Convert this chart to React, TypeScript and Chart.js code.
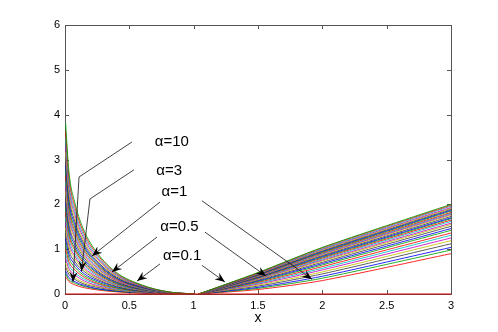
import React, { useEffect, useRef } from 'react';
import { Chart, registerables } from 'chart.js';

Chart.register(...registerables);

// sample positions along x (shared by every curve)
const xValues = [0.005, 0.03, 0.08, 0.15, 0.25, 0.4, 0.6, 0.8, 1.0, 1.04, 1.5, 2.0, 3.0];

// one row per curve (top of the family first)
const curveValues = [
  [3.80, 2.75, 2.00, 1.40, 0.92, 0.48, 0.20, 0.050, 0, 0, 0.48, 1.04, 2.00],
  [3.63, 2.63, 1.91, 1.34, 0.88, 0.46, 0.19, 0.048, 0, 0, 0.47, 1.03, 1.98],
  [3.47, 2.51, 1.82, 1.28, 0.84, 0.44, 0.18, 0.046, 0, 0, 0.465, 1.01, 1.96],
  [3.31, 2.40, 1.74, 1.22, 0.80, 0.42, 0.17, 0.044, 0, 0, 0.457, 0.996, 1.93],
  [3.16, 2.29, 1.66, 1.16, 0.77, 0.40, 0.17, 0.042, 0, 0, 0.45, 0.98, 1.91],
  [3.02, 2.19, 1.59, 1.11, 0.73, 0.38, 0.16, 0.040, 0, 0, 0.442, 0.966, 1.89],
  [2.88, 2.09, 1.52, 1.06, 0.70, 0.36, 0.15, 0.038, 0, 0, 0.434, 0.951, 1.87],
  [2.76, 1.99, 1.45, 1.02, 0.67, 0.35, 0.145, 0.036, 0, 0, 0.427, 0.936, 1.85],
  [2.63, 1.90, 1.38, 0.97, 0.64, 0.33, 0.14, 0.035, 0, 0, 0.419, 0.922, 1.82],
  [2.51, 1.82, 1.32, 0.93, 0.61, 0.32, 0.13, 0.033, 0, 0, 0.412, 0.907, 1.80],
  [2.40, 1.74, 1.26, 0.88, 0.58, 0.30, 0.126, 0.032, 0, 0, 0.404, 0.892, 1.78],
  [2.29, 1.66, 1.21, 0.84, 0.55, 0.29, 0.12, 0.030, 0, 0, 0.396, 0.877, 1.76],
  [2.16, 1.56, 1.14, 0.80, 0.52, 0.27, 0.114, 0.028, 0, 0, 0.387, 0.859, 1.73],
  [2.04, 1.48, 1.07, 0.75, 0.49, 0.26, 0.107, 0.027, 0, 0, 0.377, 0.84, 1.70],
  [1.93, 1.39, 1.01, 0.71, 0.47, 0.24, 0.10, 0.025, 0, 0, 0.368, 0.822, 1.68],
  [1.82, 1.32, 0.96, 0.67, 0.44, 0.23, 0.096, 0.024, 0, 0, 0.358, 0.803, 1.65],
  [1.70, 1.23, 0.89, 0.63, 0.41, 0.21, 0.089, 0.022, 0, 0, 0.347, 0.781, 1.62],
  [1.58, 1.15, 0.83, 0.58, 0.38, 0.20, 0.083, 0.021, 0, 0, 0.336, 0.759, 1.58],
  [1.48, 1.07, 0.78, 0.54, 0.36, 0.19, 0.078, 0.019, 0, 0, 0.324, 0.737, 1.55],
  [1.35, 0.98, 0.71, 0.50, 0.33, 0.17, 0.071, 0.018, 0, 0, 0.309, 0.707, 1.51],
  [1.23, 0.89, 0.65, 0.45, 0.30, 0.16, 0.065, 0.016, 0, 0, 0.294, 0.677, 1.46],
  [1.12, 0.81, 0.59, 0.41, 0.27, 0.14, 0.059, 0.015, 0, 0, 0.279, 0.648, 1.42],
  [1.00, 0.72, 0.53, 0.37, 0.24, 0.13, 0.053, 0.013, 0, 0, 0.26, 0.611, 1.36],
  [0.89, 0.65, 0.47, 0.33, 0.22, 0.11, 0.047, 0.012, 0, 0, 0.241, 0.574, 1.31],
  [0.79, 0.57, 0.42, 0.29, 0.19, 0.10, 0.042, 0.010, 0, 0, 0.222, 0.537, 1.25],
  [0.69, 0.50, 0.36, 0.25, 0.17, 0.087, 0.036, 0.009, 0, 0, 0.199, 0.492, 1.19],
  [0.60, 0.44, 0.32, 0.22, 0.15, 0.076, 0.032, 0.008, 0, 0, 0.176, 0.448, 1.12],
  [0.51, 0.37, 0.27, 0.19, 0.12, 0.065, 0.027, 0.007, 0, 0, 0.149, 0.396, 1.04],
  [0.45, 0.32, 0.24, 0.17, 0.11, 0.057, 0.024, 0.006, 0, 0, 0.127, 0.352, 0.98],
  [0.38, 0.28, 0.20, 0.14, 0.092, 0.048, 0.02, 0.005, 0, 0, 0.10, 0.30, 0.90],
];

// index in xValues where the rising (right-hand) branch begins
const rightBranchStart = 9;

// flat red curve lying on y = 0
const zeroLineX = [0, 3];
const zeroLineY = [0, 0];

const xTicks = [0, 0.5, 1, 1.5, 2, 2.5, 3];
const yTicks = [0, 1, 2, 3, 4, 5, 6];

const alphaLabels = ['α=10', 'α=3', 'α=1', 'α=0.5', 'α=0.1'];

// styling / annotation layout (data coordinates)
const palette = ['#0000ff', '#00a000', '#ff0000', '#00bfbf', '#bf00bf', '#bfbf00', '#404040'];
const labelPos = [
  [0.83, 3.39],
  [0.81, 2.74],
  [0.85, 2.27],
  [0.89, 1.49],
  [0.91, 0.85],
];
const arrowPaths: number[][][][] = [
  [[[0.52, 3.39], [0.109, 2.61], [0.062, 0.27]]],
  [[[0.536, 2.77], [0.194, 2.12], [0.128, 0.51]]],
  [[[0.738, 2.05], [0.21, 0.85]], [[1.064, 2.08], [1.919, 0.33]]],
  [[[0.715, 1.27], [0.365, 0.49]], [[1.088, 1.38], [1.562, 0.4]]],
  [[[0.738, 0.67], [0.56, 0.29]], [[1.064, 0.64], [1.243, 0.27]]],
];

const FONT = '"Liberation Sans", Arial, Helvetica, sans-serif';

const decorPlugin = {
  id: 'decor',
  beforeDatasetsDraw(chart: any) {
    const { ctx, chartArea: a, scales } = chart;
    const xs = scales.x;
    const ys = scales.y;
    ctx.save();
    ctx.strokeStyle = '#555';
    ctx.lineWidth = 1;
    ctx.strokeRect(a.left + 0.5, a.top + 0.5, a.right - a.left, a.bottom - a.top);
    const tl = 4;
    ctx.beginPath();
    xTicks.forEach((v) => {
      const px = Math.round(xs.getPixelForValue(v)) + 0.5;
      ctx.moveTo(px, a.bottom);
      ctx.lineTo(px, a.bottom - tl);
      ctx.moveTo(px, a.top);
      ctx.lineTo(px, a.top + tl);
    });
    yTicks.forEach((v) => {
      const py = Math.round(ys.getPixelForValue(v)) + 0.5;
      ctx.moveTo(a.left, py);
      ctx.lineTo(a.left + tl, py);
      ctx.moveTo(a.right, py);
      ctx.lineTo(a.right - tl, py);
    });
    ctx.stroke();
    ctx.restore();
  },
  afterDatasetsDraw(chart: any) {
    const { ctx, scales } = chart;
    const xs = scales.x;
    const ys = scales.y;
    const P = (p: number[]) => [xs.getPixelForValue(p[0]), ys.getPixelForValue(p[1])];
    ctx.save();
    ctx.strokeStyle = '#111';
    ctx.fillStyle = '#000';
    ctx.lineWidth = 0.8;
    arrowPaths.forEach((paths) => {
      paths.forEach((path) => {
        const pts = path.map(P);
        ctx.beginPath();
        pts.forEach((p, i) => (i === 0 ? ctx.moveTo(p[0], p[1]) : ctx.lineTo(p[0], p[1])));
        ctx.stroke();
        const tip = pts[pts.length - 1];
        const prev = pts[pts.length - 2];
        let dx = tip[0] - prev[0];
        let dy = tip[1] - prev[1];
        const len = Math.hypot(dx, dy);
        dx /= len;
        dy /= len;
        const nx = -dy;
        const ny = dx;
        const L = 10;
        const W = 4;
        ctx.beginPath();
        ctx.moveTo(tip[0], tip[1]);
        ctx.lineTo(tip[0] - L * dx + W * nx, tip[1] - L * dy + W * ny);
        ctx.lineTo(tip[0] - 0.65 * L * dx, tip[1] - 0.65 * L * dy);
        ctx.lineTo(tip[0] - L * dx - W * nx, tip[1] - L * dy - W * ny);
        ctx.closePath();
        ctx.fill();
      });
    });
    ctx.font = `15px ${FONT}`;
    ctx.textAlign = 'center';
    ctx.textBaseline = 'middle';
    alphaLabels.forEach((t, i) => {
      const p = P(labelPos[i]);
      ctx.fillText(t, p[0], p[1]);
    });
    ctx.restore();
  },
};

export default function App() {
  const ref = useRef<HTMLCanvasElement | null>(null);
  useEffect(() => {
    if (!ref.current) return;
    const datasets: any[] = [
      {
        data: zeroLineX.map((x, i) => ({ x, y: zeroLineY[i] })),
        borderColor: '#e00000',
        borderWidth: 1.2,
        pointRadius: 0,
        clip: false,
      },
    ];
    curveValues.forEach((row, i) => {
      const color = palette[(i + 1) % palette.length];
      const pts = xValues.map((x, j) => ({ x, y: row[j] }));
      // falling branch (x <= 1)
      datasets.push({
        data: pts.slice(0, rightBranchStart),
        borderColor: color,
        borderWidth: 0.85,
        pointRadius: 0,
        cubicInterpolationMode: 'monotone',
        fill: false,
      });
      // rising branch (x > 1)
      datasets.push({
        data: pts.slice(rightBranchStart),
        borderColor: color,
        borderWidth: 0.85,
        pointRadius: 0,
        tension: 0.25,
        fill: false,
      });
    });
    const chart = new Chart(ref.current, {
      type: 'line',
      data: { datasets },
      options: {
        animation: false,
        responsive: false,
        devicePixelRatio: 1,
        layout: { padding: { left: 0, right: 47, top: 25, bottom: 0 } },
        plugins: { legend: { display: false }, tooltip: { enabled: false } },
        elements: { point: { radius: 0 } },
        scales: {
          x: {
            type: 'linear',
            min: 0,
            max: 3,
            afterBuildTicks: (s: any) => {
              s.ticks = xTicks.map((v) => ({ value: v }));
            },
            afterFit: (s: any) => {
              s.height = 38;
            },
            grid: { display: false, drawTicks: false },
            border: { display: false },
            ticks: {
              padding: 5,
              color: '#000',
              font: { family: FONT, size: 11 },
              maxRotation: 0,
              autoSkip: false,
              callback: (v: any) => String(v),
            },
            title: {
              display: true,
              text: 'x',
              color: '#000',
              font: { family: FONT, size: 14 },
              padding: { top: 0, bottom: 5 },
            },
          },
          y: {
            type: 'linear',
            min: 0,
            max: 6,
            afterBuildTicks: (s: any) => {
              s.ticks = yTicks.map((v) => ({ value: v }));
            },
            afterFit: (s: any) => {
              s.width = 65;
            },
            grid: { display: false, drawTicks: false },
            border: { display: false },
            ticks: {
              padding: 5,
              color: '#000',
              font: { family: FONT, size: 11 },
              callback: (v: any) => String(v),
            },
          },
        },
      } as any,
      plugins: [decorPlugin],
    });
    return () => chart.destroy();
  }, []);
  return (
    <div style={{ position: 'fixed', left: 0, top: 0, width: 498, height: 332, background: '#fff' }}>
      <canvas ref={ref} width={498} height={332} style={{ width: 498, height: 332, display: 'block' }} />
    </div>
  );
}
